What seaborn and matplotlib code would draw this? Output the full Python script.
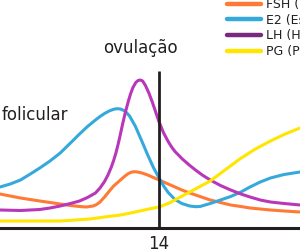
import matplotlib
matplotlib.use("Agg")
import matplotlib.pyplot as plt
from matplotlib.lines import Line2D
import seaborn as sns
import pandas as pd

# --- data (days of cycle, relative hormone level) ---
fsh_days = [0, 1.8, 3.5, 5.3, 6.2, 7.0, 7.6, 8.2, 8.5, 8.8, 9.2, 9.7, 10.0, 10.4, 10.7, 11.0,
            11.3, 11.6, 11.9, 12.1, 12.5, 13.0, 13.5, 14.0, 14.7, 15.4, 16.0, 16.7, 17.6, 18.5,
            19.4, 20.3, 21.2, 22.0, 23.8, 25.0, 26.4]
fsh_vals = [34, 30, 27, 24, 22.5, 21.5, 21, 22, 23.5, 26, 31, 38, 42, 46, 49, 52,
            54.5, 56, 56.3, 56, 55, 53, 50.5, 48, 44.5, 41, 38, 35, 31.5, 28,
            25.5, 23, 21.5, 20, 18, 17, 16]

e2_days = [0, 0.9, 1.8, 2.6, 3.5, 4.4, 5.3, 6.2, 7.0, 7.7, 8.4, 8.8, 9.2, 9.6, 10.0, 10.3,
           10.6, 11.0, 11.4, 11.9, 12.4, 13.0, 13.5, 14.0, 14.4, 14.8, 15.4, 16.0, 16.7, 17.2,
           17.6, 18.5, 19.4, 20.3, 21.2, 22.0, 22.9, 23.8, 25.0, 26.4]
e2_vals = [41, 44, 48, 53.5, 60, 67, 75, 85, 94, 101.5, 108, 111.5, 114.5, 117, 118.7, 119.3,
           119, 117, 112, 102, 89, 73, 60.5, 50, 42, 35.5, 28.5, 24.5, 22, 21.3,
           21.5, 24.5, 28, 31.5, 36, 41, 46, 50, 53.5, 56]

lh_days = [0, 1.8, 3.5, 4.4, 5.3, 6.2, 7.0, 7.7, 8.4, 8.8, 9.2, 9.5, 9.8, 10.0, 10.2, 10.4,
           10.6, 10.8, 11.05, 11.3, 11.5, 11.7, 11.95, 12.15, 12.35, 12.55, 12.8, 13.1, 13.4, 13.7,
           14.0, 14.4, 14.8, 15.1, 15.4, 16.0, 16.6, 17.2, 17.8, 18.5, 19.4, 20.3, 21.2, 22.0,
           22.9, 23.8, 25.0, 26.4]
lh_vals = [18, 17.5, 18.5, 20, 22, 24.5, 27, 30.5, 35, 40, 46.5, 53, 61, 67.5, 75, 84,
           94, 104.5, 116.5, 127, 134.5, 140.5, 145.5, 147.5, 148, 147, 142.5, 135, 126, 116,
           106, 95, 86.5, 81, 76.5, 69.5, 63.5, 58, 53, 48, 42.5, 38, 34, 31,
           28, 26, 24.5, 23]

pg_days = [0, 2.6, 5.3, 6.6, 7.9, 9.2, 10.6, 11.5, 12.3, 13.1, 14.0, 14.9, 15.7, 16.7, 17.6,
           18.5, 19.8, 21.1, 22.4, 23.8, 25.1, 26.4]
pg_vals = [7, 7, 7, 8, 9, 11, 13, 15, 17, 19, 21, 25, 30, 36, 41.5,
           47, 58, 69, 78.5, 87, 94, 100]

labels = ["FSH (Hormônio folículo-estimulante)", "E2 (Estradiol)",
          "LH (Hormônio luteinizante)", "PG (Progesterona)"]
phase_labels = ["folicular", "ovulação"]
tick_days = [14]
tick_labels = ["14"]

line_colors = ["#FF7A35", "#36A9DC", "#B937B9", "#FFE500"]
legend_colors = ["#FF7A35", "#36A9DC", "#7A2A7E", "#FFE500"]

frames = []
for lab, d, v in zip(labels, [fsh_days, e2_days, lh_days, pg_days],
                     [fsh_vals, e2_vals, lh_vals, pg_vals]):
    frames.append(pd.DataFrame({"dia": d, "nivel": v, "hormonio": lab}))
df = pd.concat(frames, ignore_index=True)

sns.set_style("white")
plt.rcParams["font.family"] = ["DejaVu Sans"]

fig = plt.figure(figsize=(3.0, 2.52), dpi=100)
ax = fig.add_axes([0, 24 / 252, 1, 228 / 252])

sns.lineplot(data=df, x="dia", y="nivel", hue="hormonio", hue_order=labels,
             palette=line_colors, estimator=None, sort=False, legend=False,
             linewidth=2.2, ax=ax, zorder=3)
for ln in ax.lines:
    ln.set_solid_joinstyle("round")
    ln.set_solid_capstyle("round")

ax.vlines(14, 0, 157, color="#231F20", linewidth=2.0, zorder=4)

ax.set_xlim(0, 26.4)
ax.set_ylim(0, 228)
for s in ["left", "right", "top"]:
    ax.spines[s].set_visible(False)
ax.spines["bottom"].set_linewidth(2.2)
ax.spines["bottom"].set_color("#231F20")
ax.spines["bottom"].set_zorder(5)
ax.set_xticks(tick_days)
ax.set_xticklabels(tick_labels, fontsize=12, color="#231F20")
ax.tick_params(axis="x", length=3, width=1.2, color="#231F20", pad=2)
ax.set_yticks([])
ax.set_xlabel("")
ax.set_ylabel("")

ax.text(0.15, 113, phase_labels[0], fontsize=12, color="#231F20", ha="left", va="center")
ax.text(12.35, 180, phase_labels[1], fontsize=12, color="#231F20", ha="center", va="center")

handles = [Line2D([], [], color=c, linewidth=3.2) for c in legend_colors]
fig.legend(handles, labels, loc="upper left",
           bbox_to_anchor=(227 / 300, 254 / 252), frameon=False,
           fontsize=9, handlelength=2.7, handletextpad=0.45,
           labelspacing=0.22, borderpad=0, borderaxespad=0,
           labelcolor="#231F20")

fig.savefig("out.png", dpi=100)
